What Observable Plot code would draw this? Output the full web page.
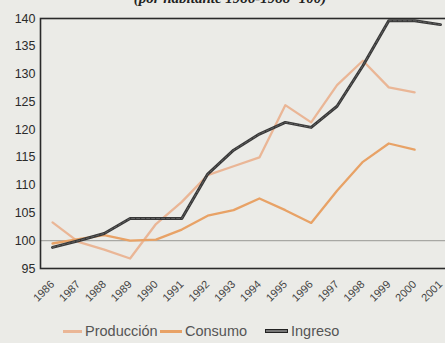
<!DOCTYPE html>
<html><head><meta charset="utf-8">
<script src="https://cdn.jsdelivr.net/npm/d3@7"></script>
<script src="https://cdn.jsdelivr.net/npm/@observablehq/plot@0.6"></script>
<style>
html,body{margin:0;padding:0;background:#ebebe7;overflow:hidden;width:445px;height:343px;}
#wrap{position:relative;width:445px;height:343px;overflow:hidden;}
#title{position:absolute;top:-9px;left:0;width:460px;text-align:center;font:italic bold 15px "Liberation Serif",serif;color:#222;line-height:15px;}
#chart{position:absolute;top:0;left:0;width:470px;}
#chart svg{max-width:none !important;width:470px;height:312px;}
.leg{position:absolute;top:322px;height:18px;font:14.5px "Liberation Sans",Arial,sans-serif;color:#555;line-height:18px;white-space:nowrap;}
.sw{display:inline-block;width:20px;height:3px;vertical-align:middle;margin-right:3px;position:relative;top:-1px;}
</style></head>
<body><div id="wrap"><div id="title">(por habitante 1986-1988=100)</div><div id="chart"></div></div>
<script>
const years = [1986,1987,1988,1989,1990,1991,1992,1993,1994,1995,1996,1997,1998,1999,2000,2001];
const produccion = [103.3,99.8,98.4,96.8,103,107,111.8,113.4,115,124.4,121.3,128,132.4,127.6,126.7,null];
const consumo = [99.5,100.3,101,100,100.2,102,104.5,105.5,107.6,105.5,103.2,109,114.2,117.5,116.4,null];
const ingreso = [98.8,100,101.3,104,104,104,112,116.3,119.2,121.3,120.4,124.2,131.5,139.6,139.6,138.9];
const seriesNames = ["Producción","Consumo","Ingreso"];
const seriesColors = ["#eab696","#e8a266","#383838"];
const yTicks = [95,100,105,110,115,120,125,130,135,140];

function rows(vals, name){
  const out=[];
  years.forEach((y,i)=>{ if(vals[i]!=null) out.push({year:y,value:vals[i],serie:name}); });
  return out;
}
const prod = rows(produccion, seriesNames[0]);
const cons = rows(consumo, seriesNames[1]);
const ing = rows(ingreso, seriesNames[2]);

const chart = Plot.plot({
  width:470, height:312,
  marginLeft:40, marginRight:0, marginTop:18, marginBottom:44,
  style:{background:"transparent", fontFamily:"'Liberation Sans', Arial, sans-serif", overflow:"visible", maxWidth:"none"},
  x:{type:"linear", domain:[1985.536, 2002.16]},
  y:{domain:[95,140]},
  marks:[
    Plot.ruleY([100],{stroke:"#a8a8a4", strokeWidth:1.2}),
    Plot.line(prod,{x:"year",y:"value",stroke:seriesColors[0],strokeWidth:2.3}),
    Plot.line(cons,{x:"year",y:"value",stroke:seriesColors[1],strokeWidth:2.3}),
    Plot.line(ing,{x:"year",y:"value",stroke:seriesColors[2],strokeWidth:3}),
    Plot.line(ing,{x:"year",y:"value",stroke:"#6a6a6a",strokeWidth:0.8,strokeDasharray:"3,2"}),
    Plot.frame({stroke:"#2a2a2a", strokeWidth:1.6}),
    Plot.axisY({ticks:yTicks, tickSize:0, tickPadding:5, fontSize:12.5, fill:"#2a2a2a", label:null}),
    Plot.axisX({ticks:years, tickFormat:d=>String(d), tickSize:0, tickPadding:14, tickRotate:-45, label:null, fontSize:11, fill:"#444", fontFamily:"'Liberation Sans Narrow','Arial Narrow',sans-serif"})
  ]
});
document.getElementById("chart").appendChild(chart);

const legX = [[63,86],[160,186],[265,292]];
const wrap = document.getElementById("wrap");
seriesNames.forEach((n,i)=>{
  const d=document.createElement("div");
  d.className="leg";
  d.style.left=legX[i][0]+"px";
  const s=document.createElement("span");
  s.className="sw"; s.style.background=seriesColors[i];
  s.style.width=(legX[i][1]-legX[i][0]-4)+"px";
  if(i===2){ s.style.height="4px"; s.style.boxShadow="inset 0 0 0 1px #222"; s.style.background="#777"; }
  d.appendChild(s);
  d.appendChild(document.createTextNode(n));
  wrap.appendChild(d);
});
</script>
</body></html>
